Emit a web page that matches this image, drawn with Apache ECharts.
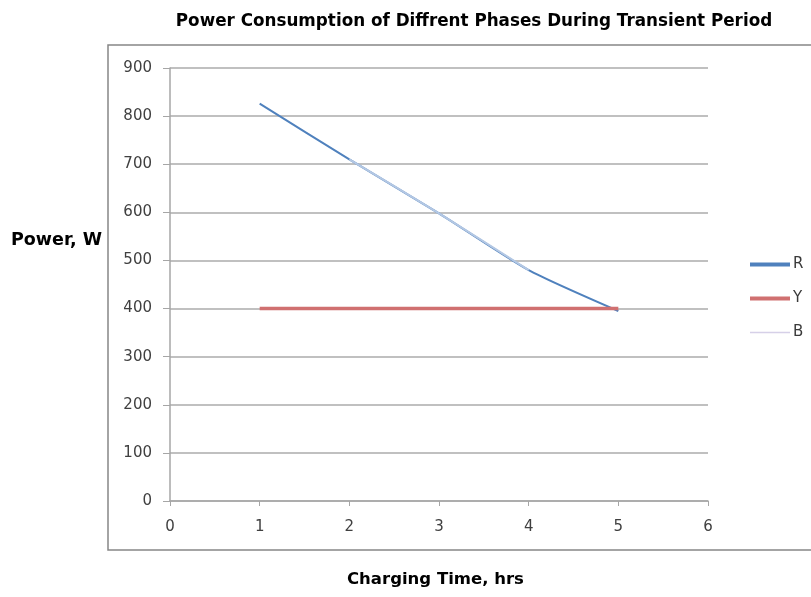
<!DOCTYPE html>
<html>
<head>
<meta charset="utf-8">
<script src="https://cdn.jsdelivr.net/npm/echarts@6/dist/echarts.min.js"></script>
<style>
  html, body { margin: 0; padding: 0; background: #fff; }
  #main { width: 811px; height: 597px; }
</style>
</head>
<body>
<div id="main"></div>
<script>
// data
var hours = [1, 2, 3, 4, 5];
var rValues = [826, 710, 598, 480, 395];
var yValues = [400, 400, 400, 400, 400];
var bHours = [2, 3, 4];
var bValues = [710, 598, 480];

function pairs(xs, ys) {
  return xs.map(function (x, i) { return [x, ys[i]]; });
}

var chart = echarts.init(document.getElementById("main"));
var font = "'DejaVu Sans', sans-serif";

chart.setOption({
  animation: false,
  title: {
    text: "Power Consumption of Diffrent Phases During Transient Period",
    left: 469,
    top: 8,
    textAlign: "center",
    textStyle: { fontFamily: font, fontSize: 16.8, fontWeight: "bold", color: "#000" }
  },
  graphic: [
    {
      type: "rect",
      shape: { x: 108, y: 45, width: 720, height: 505 },
      style: { fill: "none", stroke: "#868686", lineWidth: 1.5 },
      silent: true
    },
    {
      type: "text",
      left: 11,
      top: 231,
      style: { text: "Power, W", font: "bold 17.5px " + font, fill: "#000" }
    },
    {
      type: "text",
      left: 347,
      top: 571,
      style: { text: "Charging Time, hrs", font: "bold 16.5px " + font, fill: "#000" }
    }
  ],
  legend: {
    orient: "vertical",
    left: 743,
    top: 252,
    itemGap: 19,
    itemWidth: 40,
    itemHeight: 16,
    itemStyle: { opacity: 0 },
    textStyle: { fontFamily: font, fontSize: 15, color: "#3a3a3a", padding: [0, 0, 0, -2] },
    data: [
      { name: "R", lineStyle: { width: 4 } },
      { name: "Y", lineStyle: { width: 4 } },
      { name: "B", lineStyle: { width: 1.5, color: "#d6d0e8" } }
    ]
  },
  grid: { left: 170, top: 68, right: 103, bottom: 96 },
  xAxis: {
    type: "value",
    min: 0,
    max: 6,
    interval: 1,
    axisLine: { lineStyle: { color: "#a6a6a6", width: 1.5 } },
    axisTick: { show: true, length: 5, lineStyle: { color: "#a6a6a6" } },
    axisLabel: { fontFamily: font, fontSize: 15, color: "#404040", margin: 19 },
    splitLine: { show: false }
  },
  yAxis: {
    type: "value",
    min: 0,
    max: 900,
    interval: 100,
    axisLine: { show: true, lineStyle: { color: "#a6a6a6", width: 1.5 } },
    axisTick: { show: true, length: 7, lineStyle: { color: "#a6a6a6" } },
    axisLabel: { fontFamily: font, fontSize: 15, color: "#404040", margin: 18 },
    splitLine: { lineStyle: { color: "#c0c0c0", width: 2 } }
  },
  series: [
    {
      name: "R",
      type: "line",
      data: pairs(hours, rValues),
      smooth: 0.2,
      symbol: "none",
      itemStyle: { color: "#4f81bd" },
      lineStyle: { color: "#4f81bd", width: 2 }
    },
    {
      name: "Y",
      type: "line",
      data: pairs(hours, yValues),
      symbol: "none",
      itemStyle: { color: "#c0504d" },
      lineStyle: { color: "#d07070", width: 3.5 }
    },
    {
      name: "B",
      type: "line",
      data: pairs(bHours, bValues),
      smooth: 0.2,
      symbol: "none",
      itemStyle: { color: "#d9d3ea" },
      lineStyle: { color: "#b4c8e4", width: 2 }
    }
  ]
});
</script>
</body>
</html>
